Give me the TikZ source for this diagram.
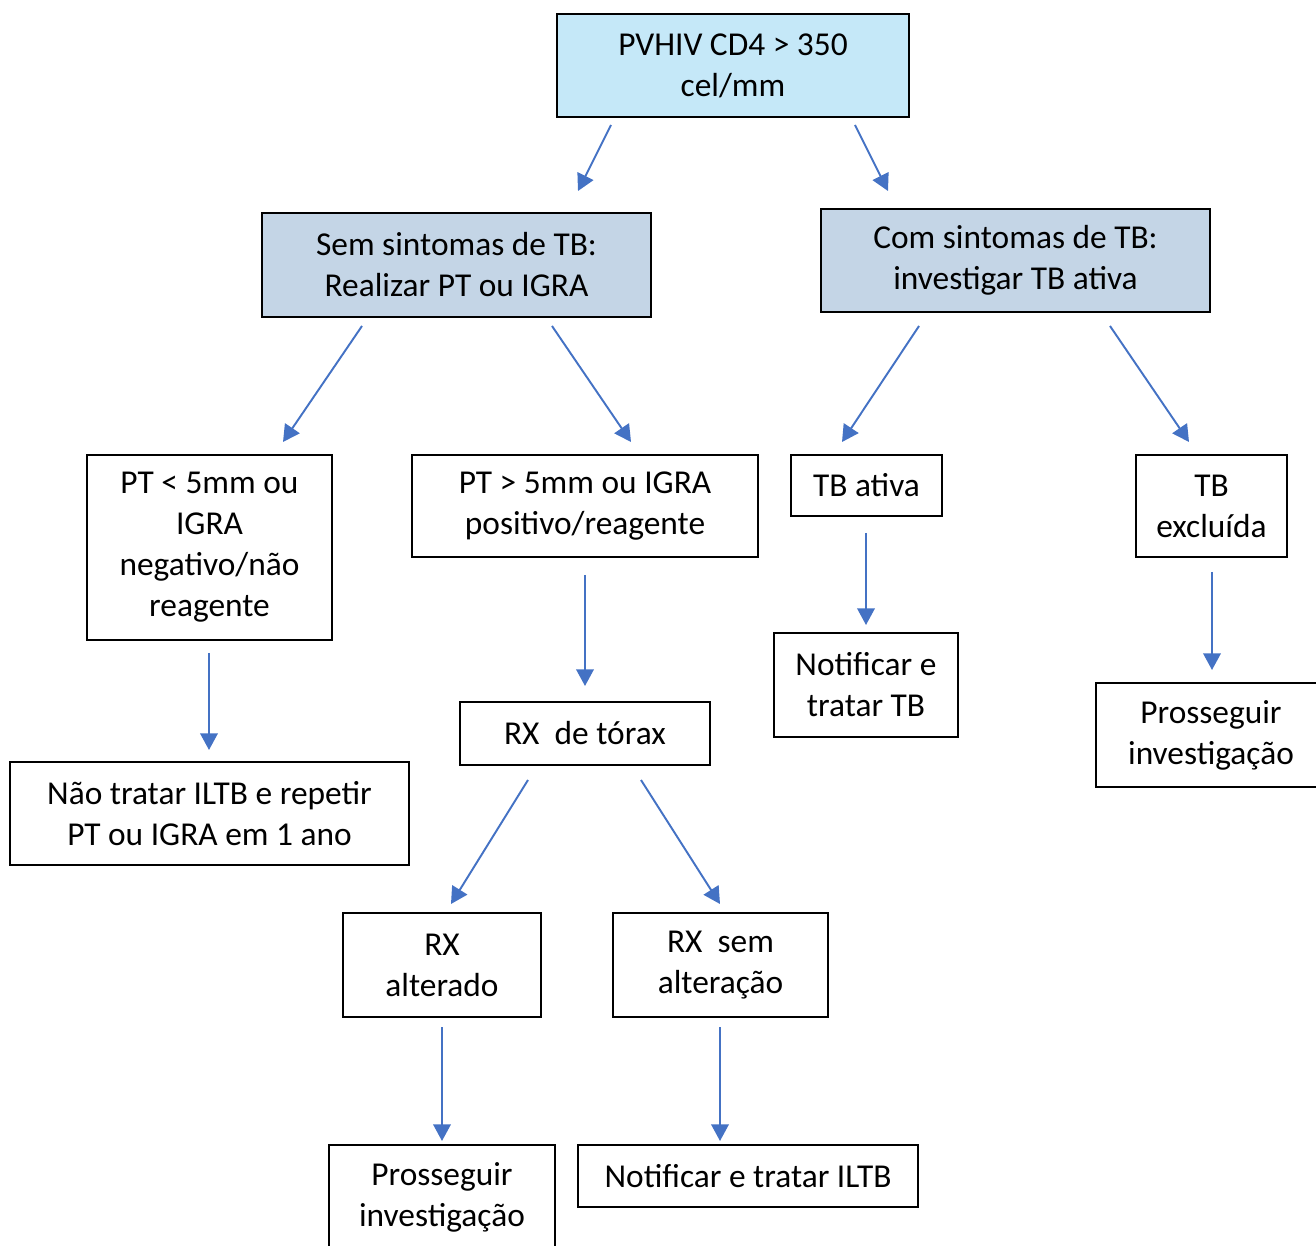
\documentclass[tikz,border=0pt]{standalone}
\usepackage{fontspec}
\setmainfont{Carlito}
\usetikzlibrary{arrows.meta}
\definecolor{topblue}{HTML}{C5E8F8}
\definecolor{stepblue}{HTML}{C4D5E6}
\definecolor{flowblue}{HTML}{4472C4}
\tikzset{
  box/.style={draw=black, line width=1.1pt, align=center, inner sep=0pt,
    font=\fontsize{19}{23.3}\selectfont},
  flow/.style={draw=flowblue, line width=1.1pt, -{Triangle[width=10pt,length=9.5pt]}}
}

\begin{document}
\begin{tikzpicture}[x=0.02cm, y=-0.02cm]
    \useasboundingbox (0,0) rectangle (1316,1246);
    \begin{scope}
    \clip (0,0) rectangle (1316,1246);
    % first levels
    \node [box, fill=topblue, minimum width=7.04cm, minimum height=2.06cm] (pvhiv) at (733,65.5)
      {PVHIV CD4 > 350\\cel/mm};
    \node [box, fill=stepblue, minimum width=7.78cm, minimum height=2.08cm] (semsint) at (456.5,265)
      {Sem sintomas de TB:\\Realizar PT ou IGRA};
    \node [box, fill=stepblue, minimum width=7.78cm, minimum height=2.06cm] (comsint) at (1015.5,260.5)
      {Com sintomas de TB:\\investigar TB ativa};
    % results
    \node [box, minimum width=4.9cm, minimum height=3.7cm] (ptneg) at (209.5,547.5)
      {PT < 5mm ou\\IGRA\\negativo/não\\reagente};
    \node [box, minimum width=6.92cm, minimum height=2.04cm] (ptpos) at (585,506)
      {PT > 5mm ou IGRA\\positivo/reagente};
    \node [box, minimum width=3.02cm, minimum height=1.22cm] (tbativa) at (866.5,485.5)
      {TB ativa};
    \node [box, minimum width=3.02cm, minimum height=2.04cm] (tbexcl) at (1211.5,506)
      {TB\\excluída};
    \node [box, minimum width=7.98cm, minimum height=2.06cm] (naotratar) at (209.5,813.5)
      {Não tratar ILTB e repetir\\PT ou IGRA em 1 ano};
    \node [box, minimum width=5cm, minimum height=1.26cm] (rxtorax) at (585,733.5)
      {RX\ \ de tórax};
    \node [box, minimum width=3.68cm, minimum height=2.08cm] (notiftb) at (866,685)
      {Notificar e\\tratar TB};
    \node [box, minimum width=4.6cm, minimum height=2.08cm] (prossdir) at (1211,735)
      {Prosseguir\\investigação};
    % rx
    \node [box, minimum width=3.96cm, minimum height=2.08cm] (rxalt) at (442,965)
      {RX\\alterado};
    \node [box, minimum width=4.3cm, minimum height=2.08cm] (rxsem) at (720.5,965)
      {RX\ \ sem\\alteração};
    \node [box, minimum width=4.52cm, minimum height=2.08cm] (prossrx) at (442,1197)
      {Prosseguir\\investigação};
    \node [box, minimum width=6.8cm, minimum height=1.24cm] (notifiltb) at (748,1176)
      {Notificar e tratar ILTB};
    \end{scope}

    % arrow ends
    \coordinate (pvhiv-l) at (611,125);    \coordinate (semsint-t) at (578,191);
    \coordinate (pvhiv-r) at (855,125);    \coordinate (comsint-t) at (888,191);
    \coordinate (semsint-l) at (362,326);  \coordinate (ptneg-t) at (283,442);
    \coordinate (semsint-r) at (552,326);  \coordinate (ptpos-t) at (631,442);
    \coordinate (comsint-l) at (919,326);  \coordinate (tbativa-t) at (842,442);
    \coordinate (comsint-r) at (1110,326); \coordinate (tbexcl-t) at (1189,442);
    \coordinate (ptneg-b) at (209,653);    \coordinate (naotratar-t) at (209,750);
    \coordinate (ptpos-b) at (585,575);    \coordinate (rxtorax-t) at (585,686);
    \coordinate (tbativa-b) at (866,533);  \coordinate (notiftb-t) at (866,625);
    \coordinate (tbexcl-b) at (1212,572);  \coordinate (prossdir-t) at (1212,670);
    \coordinate (rxtorax-l) at (528,780);  \coordinate (rxalt-t) at (451,904);
    \coordinate (rxtorax-r) at (641,780);  \coordinate (rxsem-t) at (720,904);
    \coordinate (rxalt-b) at (442,1027);   \coordinate (prossrx-t) at (442,1141);
    \coordinate (rxsem-b) at (720,1027);   \coordinate (notifiltb-t) at (720,1141);

    \draw [flow] (pvhiv-l) -- (semsint-t);
    \draw [flow] (pvhiv-r) -- (comsint-t);
    \draw [flow] (semsint-l) -- (ptneg-t);
    \draw [flow] (semsint-r) -- (ptpos-t);
    \draw [flow] (comsint-l) -- (tbativa-t);
    \draw [flow] (comsint-r) -- (tbexcl-t);
    \draw [flow] (ptneg-b) -- (naotratar-t);
    \draw [flow] (ptpos-b) -- (rxtorax-t);
    \draw [flow] (tbativa-b) -- (notiftb-t);
    \draw [flow] (tbexcl-b) -- (prossdir-t);
    \draw [flow] (rxtorax-l) -- (rxalt-t);
    \draw [flow] (rxtorax-r) -- (rxsem-t);
    \draw [flow] (rxalt-b) -- (prossrx-t);
    \draw [flow] (rxsem-b) -- (notifiltb-t);
\end{tikzpicture}
\end{document}
